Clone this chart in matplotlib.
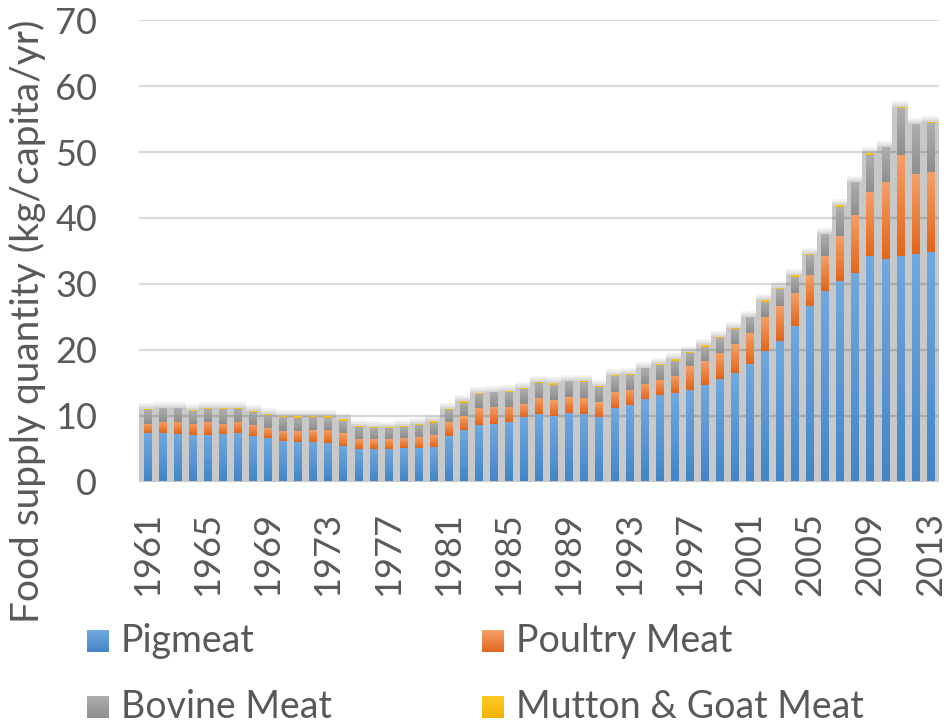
import numpy as np
import matplotlib
matplotlib.use("Agg")
import matplotlib.pyplot as plt
from matplotlib.patches import Rectangle
from matplotlib.colors import LinearSegmentedColormap

plt.rcParams['font.family'] = ['Lato', 'DejaVu Sans']

years = list(range(1961, 2014))
pigmeat = [7.3, 7.3, 7.2, 7.0, 7.0, 7.2, 7.3, 6.9, 6.6, 6.1,
           6.0, 6.0, 5.8, 5.4, 4.9, 4.9, 4.9, 5.1, 5.1, 5.2,
           6.9, 7.8, 8.6, 8.7, 9.0, 9.8, 10.2, 9.9, 10.4, 10.2,
           9.8, 11.1, 11.6, 12.5, 13.1, 13.4, 13.9, 14.6, 15.5, 16.4,
           17.8, 19.8, 21.3, 23.6, 26.6, 28.9, 30.5, 31.6, 34.2, 33.7,
           34.2, 34.5, 34.8]
poultry = [1.5, 1.7, 1.9, 1.8, 2.0, 1.6, 1.7, 1.7, 1.5, 1.5,
           1.6, 1.8, 2.0, 1.9, 1.5, 1.5, 1.5, 1.5, 1.6, 1.8,
           2.1, 2.1, 2.5, 2.6, 2.3, 1.9, 2.5, 2.4, 2.4, 2.5,
           2.2, 2.5, 2.3, 2.3, 2.3, 2.6, 3.6, 3.7, 4.0, 4.4,
           4.7, 5.1, 5.4, 5.0, 4.7, 5.3, 6.8, 8.8, 9.8, 11.7,
           15.4, 12.2, 12.2]
bovine = [2.0, 2.1, 2.0, 1.9, 2.0, 2.2, 2.0, 2.0, 2.0, 2.2,
          2.0, 2.0, 1.8, 1.9, 1.9, 1.7, 1.7, 1.7, 1.9, 1.9,
          1.8, 2.0, 2.2, 2.3, 2.3, 2.3, 2.2, 2.3, 2.4, 2.4,
          2.3, 2.4, 2.2, 2.4, 2.3, 2.3, 2.0, 2.1, 2.2, 2.3,
          2.4, 2.4, 2.5, 2.5, 3.0, 3.3, 4.3, 5.0, 5.6, 5.3,
          7.1, 7.5, 7.4]
mutton = [0.2, 0.1, 0.1, 0.1, 0.1, 0.1, 0.1, 0.1, 0.1, 0.2,
          0.3, 0.2, 0.3, 0.3, 0.1, 0.2, 0.1, 0.1, 0.1, 0.3,
          0.2, 0.3, 0.1, 0.05, 0.1, 0.2, 0.2, 0.3, 0.05, 0.1,
          0.2, 0.1, 0.2, 0.05, 0.1, 0.3, 0.1, 0.3, 0.2, 0.2,
          0.05, 0.2, 0.1, 0.2, 0.2, 0.1, 0.3, 0.1, 0.2, 0.1,
          0.2, 0.1, 0.2]

series = [("Pigmeat", pigmeat, ('#71a9de', '#4485c8')),
          ("Poultry Meat", poultry, ('#f4a068', '#e2661c')),
          ("Bovine Meat", bovine, ('#aeaeae', '#8e8e8e')),
          ("Mutton & Goat Meat", mutton, ('#ffca28', '#f0b400'))]

text_col = '#595959'
bar_w = 0.47

fig = plt.figure(figsize=(9.49, 7.27), dpi=100)
ax = fig.add_axes([139/949, 1 - 481.5/727, 800/949, 461.3/727])

x = np.array(years, dtype=float)
totals = np.sum([pigmeat, poultry, bovine, mutton], axis=0)

# soft shadow behind the bars (Excel-style outer shadow)
for extra, col in [(0.9, '#f2f2f2'), (0.6, '#e6e6e6'), (0.3, '#d6d6d6'), (0.0, '#c8c8c8')]:
    for xi, t in zip(x, totals):
        ax.add_patch(Rectangle((xi - 0.55, -0.2), 1.1, t + 0.2 + extra,
                               facecolor=col, edgecolor='none', zorder=1))

# gridlines
for v in range(10, 80, 10):
    ax.axhline(v, color=(0, 0, 0, 0.15), lw=1.6, zorder=2)

grad = np.linspace(0, 1, 64).reshape(-1, 1)
bottom = np.zeros(len(years))
for name, vals, (c_top, c_bot) in series:
    cmap = LinearSegmentedColormap.from_list(name, [c_bot, c_top])
    for xi, b, h in zip(x, bottom, vals):
        rect = Rectangle((xi - bar_w / 2, b), bar_w, h, facecolor='none',
                         edgecolor='none', zorder=3)
        ax.add_patch(rect)
        im = ax.imshow(grad, cmap=cmap, origin='lower', aspect='auto',
                       extent=(xi - bar_w / 2, xi + bar_w / 2, b, b + h),
                       zorder=3, interpolation='bilinear')
        im.set_clip_path(rect)
    bottom = bottom + np.array(vals)

ax.set_xlim(1960.45, 2013.58)
ax.set_ylim(0, 70)
ax.set_yticks(range(0, 80, 10))
ax.set_xticks(years[::4])
ax.set_xticklabels([str(y) for y in years[::4]], rotation=90)
ax.tick_params(axis='both', length=0, labelsize=26, colors=text_col)
ax.tick_params(axis='x', pad=22)
ax.tick_params(axis='y', pad=30)
for s in ['left', 'right', 'top', 'bottom']:
    ax.spines[s].set_visible(False)

fig.text(27/949, 1 - 321/727, "Food supply quantity (kg/capita/yr)", rotation=90,
         ha='center', va='center', fontsize=28, color=text_col)

# legend drawn by hand, two columns, gradient swatches
leg_pos = [(87, 652), (482, 652), (87, 718), (482, 718)]
for (name, vals, (c_top, c_bot)), (lx, ly) in zip(series, leg_pos):
    sw = fig.add_axes([lx / 949, 1 - ly / 727, 22 / 949, 22 / 727])
    sw.imshow(grad, cmap=LinearSegmentedColormap.from_list(name + '_sw', [c_bot, c_top]),
              origin='lower', aspect='auto', interpolation='bilinear')
    sw.axis('off')
    fig.text((lx + 34) / 949, 1 - ly / 727, name, ha='left', va='baseline',
             fontsize=27, color=text_col)

fig.savefig("out.png", dpi=100)
